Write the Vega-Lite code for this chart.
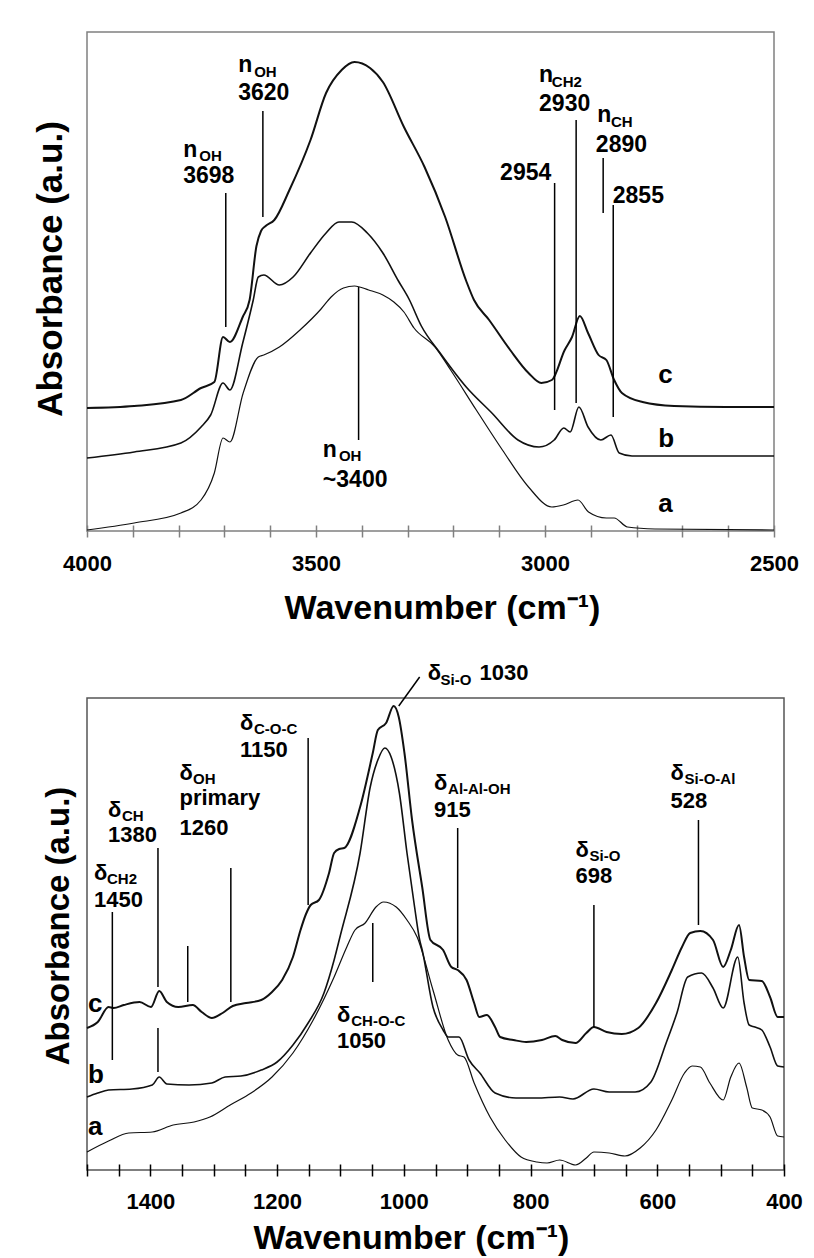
{
  "$schema": "https://vega.github.io/schema/vega-lite/v6.json",
  "padding": {"left": 32, "top": 31, "right": 5, "bottom": 5},
  "background": "white",
  "spacing": 167,
  "bounds": "flush",
  "config": {"font": "Liberation Sans", "mark": {"clip": false}},
  "datasets": {
    "topCurves": [
      {"s":"c","wn":4000,"v":123},{"s":"c","wn":3897,"v":125},{"s":"c","wn":3795,"v":131},{"s":"c","wn":3751,"v":143},{"s":"c","wn":3722,"v":149},{"s":"c","wn":3703,"v":194},{"s":"c","wn":3688,"v":189},{"s":"c","wn":3660,"v":214},{"s":"c","wn":3645,"v":231},{"s":"c","wn":3630,"v":285},{"s":"c","wn":3620,"v":300},{"s":"c","wn":3610,"v":305},{"s":"c","wn":3591,"v":311},{"s":"c","wn":3558,"v":341},{"s":"c","wn":3512,"v":391},{"s":"c","wn":3478,"v":438},{"s":"c","wn":3444,"v":461},{"s":"c","wn":3416,"v":469},{"s":"c","wn":3382,"v":463},{"s":"c","wn":3354,"v":449},{"s":"c","wn":3308,"v":404},{"s":"c","wn":3263,"v":364},{"s":"c","wn":3218,"v":314},{"s":"c","wn":3172,"v":250},{"s":"c","wn":3155,"v":231},{"s":"c","wn":3122,"v":211},{"s":"c","wn":3076,"v":181},{"s":"c","wn":3036,"v":158},{"s":"c","wn":3008,"v":148},{"s":"c","wn":2985,"v":151},{"s":"c","wn":2957,"v":181},{"s":"c","wn":2941,"v":194},{"s":"c","wn":2924,"v":215},{"s":"c","wn":2906,"v":198},{"s":"c","wn":2883,"v":176},{"s":"c","wn":2866,"v":171},{"s":"c","wn":2849,"v":151},{"s":"c","wn":2832,"v":138},{"s":"c","wn":2787,"v":129},{"s":"c","wn":2718,"v":125},{"s":"c","wn":2605,"v":124},{"s":"c","wn":2500,"v":124},
      {"s":"b","wn":4000,"v":73},{"s":"b","wn":3897,"v":79},{"s":"b","wn":3795,"v":88},{"s":"b","wn":3751,"v":104},{"s":"b","wn":3730,"v":116},{"s":"b","wn":3703,"v":148},{"s":"b","wn":3688,"v":141},{"s":"b","wn":3660,"v":188},{"s":"b","wn":3637,"v":231},{"s":"b","wn":3626,"v":254},{"s":"b","wn":3614,"v":256},{"s":"b","wn":3580,"v":246},{"s":"b","wn":3550,"v":254},{"s":"b","wn":3512,"v":278},{"s":"b","wn":3478,"v":298},{"s":"b","wn":3450,"v":309},{"s":"b","wn":3422,"v":309},{"s":"b","wn":3388,"v":298},{"s":"b","wn":3354,"v":278},{"s":"b","wn":3320,"v":250},{"s":"b","wn":3297,"v":232},{"s":"b","wn":3270,"v":205},{"s":"b","wn":3229,"v":178},{"s":"b","wn":3172,"v":144},{"s":"b","wn":3116,"v":118},{"s":"b","wn":3059,"v":91},{"s":"b","wn":3013,"v":84},{"s":"b","wn":2980,"v":91},{"s":"b","wn":2959,"v":103},{"s":"b","wn":2945,"v":99},{"s":"b","wn":2926,"v":124},{"s":"b","wn":2906,"v":104},{"s":"b","wn":2878,"v":91},{"s":"b","wn":2856,"v":96},{"s":"b","wn":2838,"v":78},{"s":"b","wn":2810,"v":75},{"s":"b","wn":2500,"v":75},
      {"s":"a","wn":4000,"v":1},{"s":"a","wn":3897,"v":8},{"s":"a","wn":3795,"v":18},{"s":"a","wn":3751,"v":31},{"s":"a","wn":3722,"v":58},{"s":"a","wn":3703,"v":93},{"s":"a","wn":3688,"v":89},{"s":"a","wn":3659,"v":138},{"s":"a","wn":3626,"v":174},{"s":"a","wn":3614,"v":176},{"s":"a","wn":3580,"v":184},{"s":"a","wn":3535,"v":201},{"s":"a","wn":3489,"v":222},{"s":"a","wn":3467,"v":234},{"s":"a","wn":3440,"v":243},{"s":"a","wn":3416,"v":245},{"s":"a","wn":3385,"v":241},{"s":"a","wn":3354,"v":236},{"s":"a","wn":3330,"v":229},{"s":"a","wn":3308,"v":219},{"s":"a","wn":3286,"v":203},{"s":"a","wn":3240,"v":184},{"s":"a","wn":3206,"v":161},{"s":"a","wn":3150,"v":121},{"s":"a","wn":3093,"v":81},{"s":"a","wn":3036,"v":44},{"s":"a","wn":2985,"v":24},{"s":"a","wn":2960,"v":26},{"s":"a","wn":2928,"v":31},{"s":"a","wn":2905,"v":19},{"s":"a","wn":2866,"v":13},{"s":"a","wn":2849,"v":13},{"s":"a","wn":2820,"v":4},{"s":"a","wn":2760,"v":2},{"s":"a","wn":2500,"v":1}
    ],
    "topRules": [
      {"wn":3697,"v":338,"v2":204},{"wn":3616,"v":420,"v2":314},{"wn":3407,"v":244,"v2":91},{"wn":2979,"v":348,"v2":121},{"wn":2932,"v":411,"v2":128},{"wn":2873,"v":373,"v2":318},{"wn":2851,"v":326,"v2":114}
    ],
    "topMain": [
      {"wn":3670,"v":459,"t":"n"},{"wn":3670,"v":431,"t":"3620"},{"wn":3790,"v":374,"t":"n"},{"wn":3790,"v":348,"t":"3698"},{"wn":3013,"v":449,"t":"n"},{"wn":3013,"v":420,"t":"2930"},{"wn":2886,"v":409,"t":"n"},{"wn":2889,"v":379,"t":"2890"},{"wn":3098,"v":351,"t":"2954"},{"wn":2852,"v":328,"t":"2855"},{"wn":3485,"v":74,"t":"n"},{"wn":3485,"v":44,"t":"~3400"}
    ],
    "topSub": [
      {"wn":3635,"v":454,"t":"OH"},{"wn":3755,"v":370,"t":"OH"},{"wn":2985,"v":444,"t":"CH2"},{"wn":2856,"v":404,"t":"CH"},{"wn":3450,"v":70,"t":"OH"}
    ],
    "topLetters": [
      {"wn":2753,"v":148,"t":"c"},{"wn":2753,"v":84,"t":"b"},{"wn":2753,"v":19,"t":"a"}
    ],
    "botCurves": [
      {"s":"c","wn":1500,"v":142},{"s":"c","wn":1483,"v":148},{"s":"c","wn":1466,"v":163},{"s":"c","wn":1458,"v":162},{"s":"c","wn":1442,"v":165},{"s":"c","wn":1417,"v":168},{"s":"c","wn":1399,"v":163},{"s":"c","wn":1386,"v":179},{"s":"c","wn":1374,"v":168},{"s":"c","wn":1356,"v":163},{"s":"c","wn":1333,"v":165},{"s":"c","wn":1319,"v":158},{"s":"c","wn":1303,"v":152},{"s":"c","wn":1286,"v":157},{"s":"c","wn":1270,"v":164},{"s":"c","wn":1249,"v":167},{"s":"c","wn":1225,"v":170},{"s":"c","wn":1208,"v":178},{"s":"c","wn":1192,"v":190},{"s":"c","wn":1175,"v":213},{"s":"c","wn":1163,"v":240},{"s":"c","wn":1155,"v":255},{"s":"c","wn":1147,"v":265},{"s":"c","wn":1134,"v":270},{"s":"c","wn":1118,"v":297},{"s":"c","wn":1110,"v":317},{"s":"c","wn":1102,"v":321},{"s":"c","wn":1094,"v":322},{"s":"c","wn":1069,"v":363},{"s":"c","wn":1049,"v":417},{"s":"c","wn":1041,"v":440},{"s":"c","wn":1028,"v":447},{"s":"c","wn":1016,"v":464},{"s":"c","wn":1008,"v":453},{"s":"c","wn":999,"v":417},{"s":"c","wn":987,"v":350},{"s":"c","wn":971,"v":283},{"s":"c","wn":958,"v":230},{"s":"c","wn":938,"v":220},{"s":"c","wn":925,"v":203},{"s":"c","wn":915,"v":200},{"s":"c","wn":901,"v":190},{"s":"c","wn":889,"v":167},{"s":"c","wn":881,"v":153},{"s":"c","wn":869,"v":155},{"s":"c","wn":856,"v":143},{"s":"c","wn":848,"v":133},{"s":"c","wn":827,"v":130},{"s":"c","wn":807,"v":128},{"s":"c","wn":782,"v":130},{"s":"c","wn":761,"v":134},{"s":"c","wn":750,"v":130},{"s":"c","wn":729,"v":127},{"s":"c","wn":712,"v":137},{"s":"c","wn":700,"v":143},{"s":"c","wn":680,"v":138},{"s":"c","wn":656,"v":136},{"s":"c","wn":630,"v":142},{"s":"c","wn":602,"v":167},{"s":"c","wn":577,"v":200},{"s":"c","wn":561,"v":223},{"s":"c","wn":548,"v":237},{"s":"c","wn":532,"v":239},{"s":"c","wn":512,"v":230},{"s":"c","wn":496,"v":203},{"s":"c","wn":484,"v":220},{"s":"c","wn":471,"v":245},{"s":"c","wn":463,"v":213},{"s":"c","wn":455,"v":190},{"s":"c","wn":435,"v":189},{"s":"c","wn":422,"v":173},{"s":"c","wn":410,"v":153},{"s":"c","wn":400,"v":153},
      {"s":"b","wn":1500,"v":73},{"s":"b","wn":1483,"v":77},{"s":"b","wn":1466,"v":80},{"s":"b","wn":1429,"v":81},{"s":"b","wn":1397,"v":85},{"s":"b","wn":1386,"v":93},{"s":"b","wn":1374,"v":86},{"s":"b","wn":1339,"v":85},{"s":"b","wn":1303,"v":87},{"s":"b","wn":1282,"v":93},{"s":"b","wn":1257,"v":94},{"s":"b","wn":1225,"v":100},{"s":"b","wn":1200,"v":108},{"s":"b","wn":1175,"v":125},{"s":"b","wn":1151,"v":147},{"s":"b","wn":1126,"v":177},{"s":"b","wn":1110,"v":210},{"s":"b","wn":1100,"v":235},{"s":"b","wn":1069,"v":317},{"s":"b","wn":1053,"v":383},{"s":"b","wn":1041,"v":410},{"s":"b","wn":1030,"v":422},{"s":"b","wn":1020,"v":413},{"s":"b","wn":1007,"v":377},{"s":"b","wn":995,"v":317},{"s":"b","wn":983,"v":263},{"s":"b","wn":975,"v":230},{"s":"b","wn":971,"v":220},{"s":"b","wn":954,"v":163},{"s":"b","wn":938,"v":140},{"s":"b","wn":930,"v":133},{"s":"b","wn":913,"v":133},{"s":"b","wn":897,"v":110},{"s":"b","wn":880,"v":97},{"s":"b","wn":856,"v":77},{"s":"b","wn":823,"v":72},{"s":"b","wn":790,"v":72},{"s":"b","wn":754,"v":73},{"s":"b","wn":733,"v":71},{"s":"b","wn":700,"v":81},{"s":"b","wn":676,"v":78},{"s":"b","wn":635,"v":78},{"s":"b","wn":610,"v":88},{"s":"b","wn":586,"v":127},{"s":"b","wn":569,"v":157},{"s":"b","wn":552,"v":193},{"s":"b","wn":530,"v":197},{"s":"b","wn":512,"v":182},{"s":"b","wn":496,"v":162},{"s":"b","wn":473,"v":213},{"s":"b","wn":463,"v":167},{"s":"b","wn":455,"v":145},{"s":"b","wn":446,"v":143},{"s":"b","wn":435,"v":140},{"s":"b","wn":422,"v":123},{"s":"b","wn":410,"v":104},{"s":"b","wn":400,"v":103},
      {"s":"a","wn":1500,"v":18},{"s":"a","wn":1466,"v":29},{"s":"a","wn":1434,"v":37},{"s":"a","wn":1397,"v":38},{"s":"a","wn":1364,"v":45},{"s":"a","wn":1331,"v":48},{"s":"a","wn":1306,"v":53},{"s":"a","wn":1274,"v":65},{"s":"a","wn":1241,"v":77},{"s":"a","wn":1208,"v":93},{"s":"a","wn":1175,"v":117},{"s":"a","wn":1143,"v":150},{"s":"a","wn":1110,"v":193},{"s":"a","wn":1090,"v":223},{"s":"a","wn":1077,"v":240},{"s":"a","wn":1061,"v":247},{"s":"a","wn":1044,"v":263},{"s":"a","wn":1032,"v":268},{"s":"a","wn":1012,"v":263},{"s":"a","wn":995,"v":250},{"s":"a","wn":979,"v":233},{"s":"a","wn":954,"v":180},{"s":"a","wn":930,"v":130},{"s":"a","wn":915,"v":115},{"s":"a","wn":905,"v":113},{"s":"a","wn":889,"v":87},{"s":"a","wn":864,"v":53},{"s":"a","wn":840,"v":30},{"s":"a","wn":815,"v":13},{"s":"a","wn":790,"v":8},{"s":"a","wn":774,"v":7},{"s":"a","wn":754,"v":10},{"s":"a","wn":729,"v":5},{"s":"a","wn":712,"v":12},{"s":"a","wn":700,"v":18},{"s":"a","wn":676,"v":17},{"s":"a","wn":651,"v":14},{"s":"a","wn":627,"v":22},{"s":"a","wn":602,"v":40},{"s":"a","wn":577,"v":70},{"s":"a","wn":557,"v":97},{"s":"a","wn":545,"v":104},{"s":"a","wn":532,"v":103},{"s":"a","wn":517,"v":87},{"s":"a","wn":496,"v":70},{"s":"a","wn":484,"v":93},{"s":"a","wn":471,"v":107},{"s":"a","wn":459,"v":83},{"s":"a","wn":450,"v":62},{"s":"a","wn":435,"v":60},{"s":"a","wn":422,"v":53},{"s":"a","wn":410,"v":34},{"s":"a","wn":400,"v":33}
    ],
    "botRules": [
      {"wn":1460,"v":258,"v2":110},{"wn":1388,"v":322,"v2":183},{"wn":1388,"v":142,"v2":98},{"wn":1341,"v":224,"v2":168},{"wn":1273,"v":302,"v2":168},{"wn":1151,"v":432,"v2":265},{"wn":1049,"v":247,"v2":188},{"wn":915,"v":342,"v2":202},{"wn":700,"v":265,"v2":143},{"wn":535,"v":350,"v2":245}
    ],
    "botDiag": [
      {"wn":975,"wn2":1008,"v":493,"v2":464}
    ],
    "botMain": [
      {"wn":962.4,"v":490,"t":"δ"},{"wn":880.5,"v":490,"t":"1030"},
      {"wn":1258.5,"v":440,"t":"δ"},{"wn":1258.5,"v":413,"t":"1150"},
      {"wn":1354,"v":390,"t":"δ"},{"wn":1354,"v":365,"t":"primary"},{"wn":1354,"v":335,"t":"1260"},
      {"wn":1466.9,"v":353,"t":"δ"},{"wn":1466.9,"v":328,"t":"1380"},
      {"wn":1489,"v":290,"t":"δ"},{"wn":1489,"v":263,"t":"1450"},
      {"wn":952.3,"v":380,"t":"δ"},{"wn":952.3,"v":353,"t":"915"},
      {"wn":729,"v":313,"t":"δ"},{"wn":729,"v":287,"t":"698"},
      {"wn":579,"v":390,"t":"δ"},{"wn":579,"v":362,"t":"528"},
      {"wn":1105.4,"v":148,"t":"δ"},{"wn":1105.4,"v":122,"t":"1050"}
    ],
    "botSub": [
      {"wn":942,"v":485,"t":"Si-O"},{"wn":1236.4,"v":436,"t":"C-O-C"},{"wn":1332.7,"v":386,"t":"OH"},{"wn":1444.8,"v":349,"t":"CH"},{"wn":1468.4,"v":286,"t":"CH2"},{"wn":930.2,"v":376,"t":"Al-Al-OH"},{"wn":707,"v":309,"t":"Si-O"},{"wn":557,"v":386,"t":"Si-O-Al"},{"wn":1083,"v":144,"t":"CH-O-C"}
    ],
    "botLetters": [
      {"wn":1498.4,"v":158,"t":"c"},{"wn":1498.4,"v":87,"t":"b"},{"wn":1498.4,"v":35,"t":"a"}
    ]
  },
  "vconcat": [
    {
      "width": 687,
      "height": 499,
      "view": {"stroke": "#808080", "strokeWidth": 1.5},
      "encoding": {
        "x": {"field": "wn", "type": "quantitative",
          "scale": {"domain": [2500, 4000], "reverse": true, "nice": false, "zero": false},
          "axis": {"values": [4000,3900,3800,3700,3600,3500,3400,3300,3200,3100,3000,2900,2800,2700,2600,2500],
            "format": "d", "labelExpr": "datum.value % 500 === 0 ? datum.label : ''",
            "domain": false, "grid": false, "offset": -6, "tickSize": 12, "tickColor": "#808080", "tickWidth": 1.5,
            "labelFont": "Liberation Sans", "labelFontWeight": "bold", "labelFontSize": 22, "labelColor": "black",
            "labelPadding": 16, "labelOverlap": false, "labelFlush": false, "labelBaseline": "top",
            "title": "Wavenumber (cm⁻¹)", "titleFont": "Liberation Sans", "titleFontSize": 34, "titleFontWeight": "bold",
            "titleColor": "black", "titleBaseline": "alphabetic", "titleAlign": "center", "titleX": 355, "titleY": 93}},
        "y": {"field": "v", "type": "quantitative",
          "scale": {"domain": [0, 499], "nice": false, "zero": false},
          "axis": {"labels": false, "ticks": false, "domain": false, "grid": false,
            "title": "Absorbance (a.u.)", "titleFont": "Liberation Sans", "titleFontSize": 35, "titleFontWeight": "bold",
            "titleColor": "black", "titleAngle": 270, "titleBaseline": "alphabetic", "titleAlign": "center", "titleX": -26, "titleY": 236.5}}
      },
      "layer": [
        {"data": {"name": "topCurves"},
         "mark": {"type": "line", "color": "#111", "strokeJoin": "round", "interpolate": "monotone"},
         "encoding": {"detail": {"field": "s"},
           "strokeWidth": {"field": "s", "type": "nominal", "scale": {"domain": ["a","b","c"], "range": [1.2, 2, 2.6]}, "legend": null}}},
        {"data": {"name": "topRules"},
         "mark": {"type": "rule", "color": "black", "strokeWidth": 1.5},
         "encoding": {"y2": {"field": "v2"}}},
        {"data": {"name": "topMain"},
         "mark": {"type": "text", "align": "left", "baseline": "alphabetic", "font": "Liberation Sans", "fontWeight": "bold", "fontSize": 23, "color": "black"},
         "encoding": {"text": {"field": "t"}}},
        {"data": {"name": "topSub"},
         "mark": {"type": "text", "align": "left", "baseline": "alphabetic", "font": "Liberation Sans", "fontWeight": "bold", "fontSize": 15, "color": "black"},
         "encoding": {"text": {"field": "t"}}},
        {"data": {"name": "topLetters"},
         "mark": {"type": "text", "align": "left", "baseline": "alphabetic", "font": "Liberation Sans", "fontWeight": "bold", "fontSize": 26, "color": "black"},
         "encoding": {"text": {"field": "t"}}}
      ]
    },
    {
      "width": 697,
      "height": 472,
      "view": {"stroke": "#555555", "strokeWidth": 1.5},
      "encoding": {
        "x": {"field": "wn", "type": "quantitative",
          "scale": {"domain": [400, 1500], "reverse": true, "nice": false, "zero": false},
          "axis": {"values": [1500,1450,1400,1350,1300,1250,1200,1150,1100,1050,1000,950,900,850,800,750,700,650,600,550,500,450,400],
            "format": "d", "labelExpr": "datum.value % 200 === 0 && datum.value <= 1400 ? datum.label : ''",
            "domain": false, "grid": false, "offset": -6, "tickSize": 12, "tickColor": "black", "tickWidth": 1.5,
            "labelFont": "Liberation Sans", "labelFontWeight": "bold", "labelFontSize": 22, "labelColor": "black",
            "labelPadding": 15, "labelOverlap": false, "labelFlush": false, "labelBaseline": "top",
            "title": "Wavenumber (cm⁻¹)", "titleFont": "Liberation Sans", "titleFontSize": 34, "titleFontWeight": "bold",
            "titleColor": "black", "titleBaseline": "alphabetic", "titleAlign": "center", "titleX": 324, "titleY": 84}},
        "y": {"field": "v", "type": "quantitative",
          "scale": {"domain": [0, 472], "nice": false, "zero": false},
          "axis": {"labels": false, "ticks": false, "domain": false, "grid": false,
            "title": "Absorbance (a.u.)", "titleFont": "Liberation Sans", "titleFontSize": 33, "titleFontWeight": "bold",
            "titleColor": "black", "titleAngle": 270, "titleBaseline": "alphabetic", "titleAlign": "center", "titleX": -18.5, "titleY": 227.5}}
      },
      "layer": [
        {"data": {"name": "botCurves"},
         "mark": {"type": "line", "color": "#111", "strokeJoin": "round", "interpolate": "monotone"},
         "encoding": {"detail": {"field": "s"},
           "strokeWidth": {"field": "s", "type": "nominal", "scale": {"domain": ["a","b","c"], "range": [1.2, 2, 2.2]}, "legend": null}}},
        {"data": {"name": "botRules"},
         "mark": {"type": "rule", "color": "black", "strokeWidth": 1.5},
         "encoding": {"y2": {"field": "v2"}}},
        {"data": {"name": "botDiag"},
         "mark": {"type": "rule", "color": "black", "strokeWidth": 1.5},
         "encoding": {"x2": {"field": "wn2"}, "y2": {"field": "v2"}}},
        {"data": {"values": [{"z": 0}]},
         "mark": {"type": "rule", "color": "black", "strokeWidth": 1.5},
         "encoding": {"x": null, "y": {"datum": 0, "type": "quantitative"}}},
        {"data": {"name": "botMain"},
         "mark": {"type": "text", "align": "left", "baseline": "alphabetic", "font": "Liberation Sans", "fontWeight": "bold", "fontSize": 22, "color": "black"},
         "encoding": {"text": {"field": "t"}}},
        {"data": {"name": "botSub"},
         "mark": {"type": "text", "align": "left", "baseline": "alphabetic", "font": "Liberation Sans", "fontWeight": "bold", "fontSize": 15, "color": "black"},
         "encoding": {"text": {"field": "t"}}},
        {"data": {"name": "botLetters"},
         "mark": {"type": "text", "align": "left", "baseline": "alphabetic", "font": "Liberation Sans", "fontWeight": "bold", "fontSize": 26, "color": "black"},
         "encoding": {"text": {"field": "t"}}}
      ]
    }
  ]
}
